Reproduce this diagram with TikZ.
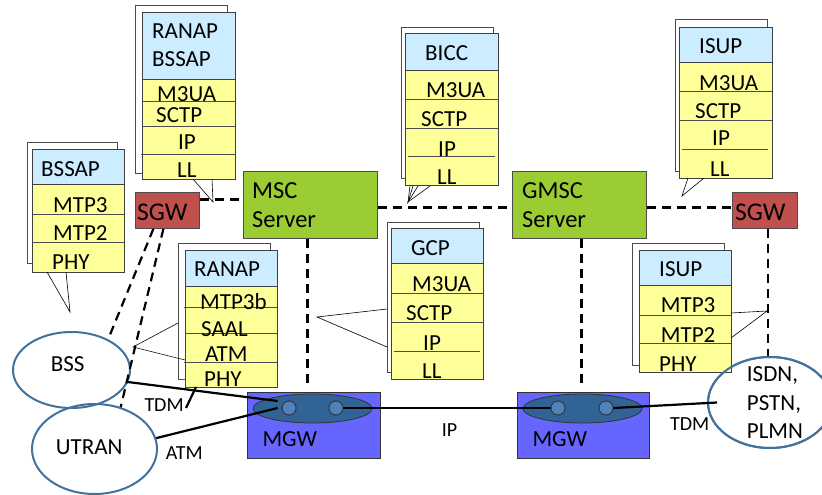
\documentclass[tikz,border=0pt]{standalone}
\usepackage{fontspec}
\setmainfont{Carlito}
\usetikzlibrary{shapes.geometric,calc}
\definecolor{hdr}{RGB}{204,236,255}
\definecolor{yel}{RGB}{255,255,153}
\definecolor{sgwred}{RGB}{192,80,77}
\definecolor{mscgreen}{RGB}{155,204,51}
\definecolor{mgwblue}{RGB}{102,102,255}
\definecolor{mgwinner}{RGB}{49,99,150}
\definecolor{portblue}{RGB}{79,129,189}
\definecolor{ellline}{RGB}{65,113,156}
\begin{document}
\begin{tikzpicture}[x=1pt,y=-1pt,
  stk/.style={font=\fontsize{23}{27}\selectfont, inner sep=0pt, anchor=base west},
  lbl/.style={font=\fontsize{20}{24}\selectfont, inner sep=0pt, anchor=base west},
  big/.style={font=\fontsize{24.5}{29}\selectfont, inner sep=0pt, anchor=base west},
  sgwtxt/.style={font=\fontsize{25.5}{30}\selectfont, inner sep=0pt, anchor=base west},
  shadowrect/.style={draw=black!70, fill=white, line width=0.8pt},
  hdrrect/.style={draw=black!75, fill=hdr, line width=0.8pt},
  yelrect/.style={draw=black!75, fill=yel, line width=0.8pt},
  rowline/.style={draw=black!70, line width=0.8pt},
  tail/.style={draw=black, line width=0.6pt},
  sig/.style={draw=black, line width=2.2pt, dash pattern=on 9pt off 6pt},
  link/.style={draw=black, line width=2.2pt},
  sgwbox/.style={draw=black!70, fill=sgwred, line width=0.8pt, inner sep=0pt, anchor=north west, minimum width=64pt, minimum height=36pt},
  mscbox/.style={draw=black!70, fill=mscgreen, line width=0.8pt, inner sep=0pt, anchor=north west, minimum width=134pt, minimum height=67pt},
  mgwbox/.style={draw=black!80, fill=mgwblue, line width=0.8pt, inner sep=0pt, anchor=north west, minimum width=133pt, minimum height=66pt},
  mgwell/.style={ellipse, draw=black!80, fill=mgwinner, line width=0.8pt, inner sep=0pt, minimum width=119pt, minimum height=29pt},
  portc/.style={circle, draw=black!80, fill=portblue, line width=0.8pt, inner sep=0pt, minimum size=14pt},
  netell/.style={ellipse, draw=ellline, line width=2pt, inner sep=0pt}
]
\useasboundingbox (0,0) rectangle (822,495);

% ---------------- main boxes ----------------
\node[sgwbox] (sgwL) at (135,192) {};
\node[sgwtxt] (sgwLt) at (137,220) {SGW};
\node[mscbox] (msc) at (243,171) {};
\node[big] (msct1) at (252,198.3) {MSC};
\node[big] (msct2) at (252,227.7) {Server};
\node[mscbox] (gmsc) at (512,171) {};
\node[big] (gmsct1) at (522,198.3) {GMSC};
\node[big] (gmsct2) at (522,227.7) {Server};
\node[sgwbox, minimum width=65pt] (sgwR) at (732,192) {};
\node[sgwtxt] (sgwRt) at (735,220) {SGW};

\node[mgwbox] (mgwL) at (247,392) {};
\node[mgwbox, minimum width=132pt] (mgwR) at (517,392) {};
\node[mgwell] (eL) at (312.5,408.5) {};
\node[mgwell] (eR) at (582.5,408.5) {};
\node[stk] (mgwLt) at (262.3,446.7) {MGW};
\node[stk] (mgwRt) at (532.3,446.7) {MGW};

% ---------------- signalling (dashed) ----------------
\draw[sig] ([yshift=11pt]sgwL.east) -- ([yshift=11pt]sgwL.east -| msc.west);
\draw[sig] ([yshift=-2.5pt]msc.east) -- ([yshift=-2.5pt]msc.east -| gmsc.west);
\draw[sig] ([yshift=-2.5pt]gmsc.east) -- ([yshift=-2.5pt]gmsc.east -| sgwR.west);
\draw[sig] ([xshift=-3pt]msc.south) -- ([xshift=-3pt,yshift=7pt]msc.south |- mgwL.north);
\draw[sig] ([xshift=2pt]gmsc.south) -- ([xshift=2pt,yshift=7pt]gmsc.south |- mgwR.north);

% ---------------- network ellipses ----------------
\node[netell, minimum width=117pt, minimum height=76pt] (bss) at (71.5,370) {};
\node[netell, minimum width=125pt, minimum height=90pt] (utran) at (94.5,449) {};
\node[netell, minimum width=124pt, minimum height=91pt] (isdn) at (770,402.5) {};
\node[stk] (bsst) at (50.7,371) {BSS};
\node[stk] (utrant) at (55.7,454) {UTRAN};
\node[stk] (isdnt1) at (746.7,381) {ISDN,};
\node[stk] (isdnt2) at (746.7,410) {PSTN,};
\node[stk] (isdnt3) at (746.7,438.3) {PLMN};

\draw[sig] ([xshift=-14pt]sgwL.south) -- (bss.40);
\draw[sig] ([xshift=-4pt]sgwL.south) -- (utran.58);
\draw[sig] ([xshift=3pt]sgwR.south) -- ([xshift=3pt]sgwR.south |- isdn.north);

% ---------------- stack: RANAP / BSSAP (top left) ----------------
\draw[shadowrect] (135,5) rectangle (227,173);
\draw[yelrect] (142,79) rectangle (235,179);
\draw[hdrrect] (142,12) rectangle (235,79);
\draw[rowline] (142,101) -- (235,101) (142,126) -- (235,126) (141,154) -- (235,154);
\node[stk] (s1a) at (152,38.3) {RANAP};
\node[stk] (s1b) at (152,66.7) {BSSAP};
\node[stk] (s1c) at (157,101.7) {M3UA};
\node[stk] (s1d) at (156,122.7) {SCTP};
\node[stk] (s1e) at (178,149.3) {IP};
\node[stk] (s1f) at (177,177.3) {LL};
\draw[tail] (193,179) -- (213,202) -- (212,179);

% ---------------- stack: BSSAP (left) ----------------
\draw[shadowrect] (27,142) rectangle (117,263);
\draw[yelrect] (32,184) rectangle (124,272);
\draw[hdrrect] (32,149) rectangle (124,184);
\draw[rowline] (32,214) -- (124,214) (32,242) -- (124,242);
\node[stk] (s2a) at (41,176) {BSSAP};
\node[stk] (s2b) at (53,212) {MTP3};
\node[stk] (s2c) at (53,240.7) {MTP2};
\node[stk] (s2d) at (52,269.3) {PHY};
\draw[tail] (47,272) -- (70,312) -- (66,272);

% ---------------- stack: BICC ----------------
\draw[shadowrect] (401,27) rectangle (493,178);
\draw[yelrect] (405,70) rectangle (498,185);
\draw[hdrrect] (405,33) rectangle (498,70);
\draw[rowline] (405,99) -- (498,99) (405,128) -- (498,128) (408,156) -- (495,156);
\node[stk] (s3a) at (425,61) {BICC};
\node[stk] (s3b) at (426,97.3) {M3UA};
\node[stk] (s3c) at (421,126) {SCTP};
\node[stk] (s3d) at (438,156) {IP};
\node[stk] (s3e) at (437,184.3) {LL};
\draw[tail] (410,186) -- (408,202) -- (430,186);
\draw[tail] (413,186) -- (408,202) -- (418,186);

% ---------------- stack: ISUP (top right) ----------------
\draw[shadowrect] (675,19) rectangle (767,171);
\draw[yelrect] (679,62) rectangle (772,178);
\draw[hdrrect] (679,27) rectangle (772,62);
\draw[rowline] (679,91) -- (772,91) (679,120) -- (772,120) (682,149) -- (768,149);
\node[stk] (s4a) at (699,54) {ISUP};
\node[stk] (s4b) at (699,90) {M3UA};
\node[stk] (s4c) at (695,118.3) {SCTP};
\node[stk] (s4d) at (712,145) {IP};
\node[stk] (s4e) at (710,176.7) {LL};
\draw[tail] (688,178) -- (682,196) -- (704,178);

% ---------------- stack: GCP ----------------
\draw[shadowrect] (387,222) rectangle (479,372);
\draw[yelrect] (391,263) rectangle (483,379);
\draw[hdrrect] (391,228) rectangle (483,263);
\draw[rowline] (391,293) -- (483,293) (391,322) -- (483,322) (394,351) -- (480,351);
\node[stk] (s5a) at (411,255) {GCP};
\node[stk] (s5b) at (412,291) {M3UA};
\node[stk] (s5c) at (406,320) {SCTP};
\node[stk] (s5d) at (423,350) {IP};
\node[stk] (s5e) at (422,378.3) {LL};
\draw[tail] (387,309) -- (317,317) -- (387,347);

% ---------------- stack: RANAP (middle left) ----------------
\draw[shadowrect] (178,243) rectangle (270,379);
\draw[yelrect] (185,286) rectangle (277,387);
\draw[hdrrect] (185,250) rectangle (277,286);
\draw[rowline] (184,307) -- (277,307) (185,333) -- (277,333) (184,362) -- (277,362);
\node[stk] (s6a) at (194,276.7) {RANAP};
\node[stk] (s6b) at (200,309) {MTP3b};
\node[stk] (s6c) at (201,336) {SAAL};
\node[stk] (s6d) at (205,361.7) {ATM};
\node[stk] (s6e) at (204,386.7) {PHY};
\draw[tail] (178,323) -- (133,347) -- (185,360);

% ---------------- stack: ISUP (lower right) ----------------
\draw[shadowrect] (632,243) rectangle (724,365);
\draw[yelrect] (639,285) rectangle (731,372);
\draw[hdrrect] (639,250) rectangle (731,285);
\draw[rowline] (639,315) -- (731,315) (639,343) -- (731,343);
\node[stk] (s7a) at (659,276.7) {ISUP};
\node[stk] (s7b) at (660.7,312.7) {MTP3};
\node[stk] (s7c) at (660.7,342) {MTP2};
\node[stk] (s7d) at (659,371) {PHY};
\draw[tail] (731,313) -- (767,311) -- (731,338);

% redraw ISDN outline over the stack corner
\node[netell, minimum width=124pt, minimum height=91pt] (isdnb) at (770,402.5) {};

% ---------------- bearer links ----------------
\node[portc] (pL1) at (289,408) {};
\node[portc] (pL2) at (336,408) {};
\node[portc] (pR1) at (558,408) {};
\node[portc] (pR2) at (606,408) {};
\coordinate (pin) at (196,387);
\coordinate (pout) at (186,408);
\draw[link] (bss.-12) -- ([shift={(-4pt,7pt)}]pL1.west);
\draw[link] (utran.10) -- ([xshift=-4pt]pL1.west);
\draw[link] (pin) -- (pout);
\draw[link] (pL2.east) -- (pR1.west);
\draw[link] (pR2.east) -- ([xshift=10pt]isdn.west);
\node[portc] (pL1b) at (289,408) {};
\node[portc] (pL2b) at (336,408) {};
\node[portc] (pR1b) at (558,408) {};
\node[portc] (pR2b) at (606,408) {};

\node[lbl] (tdm1) at (144.3,411) {TDM};
\node[lbl] (atm1) at (165.7,459.3) {ATM};
\node[lbl] (ip1) at (441.7,436.7) {IP};
\node[lbl] (tdm2) at (670,430.7) {TDM};
\end{tikzpicture}
\end{document}
